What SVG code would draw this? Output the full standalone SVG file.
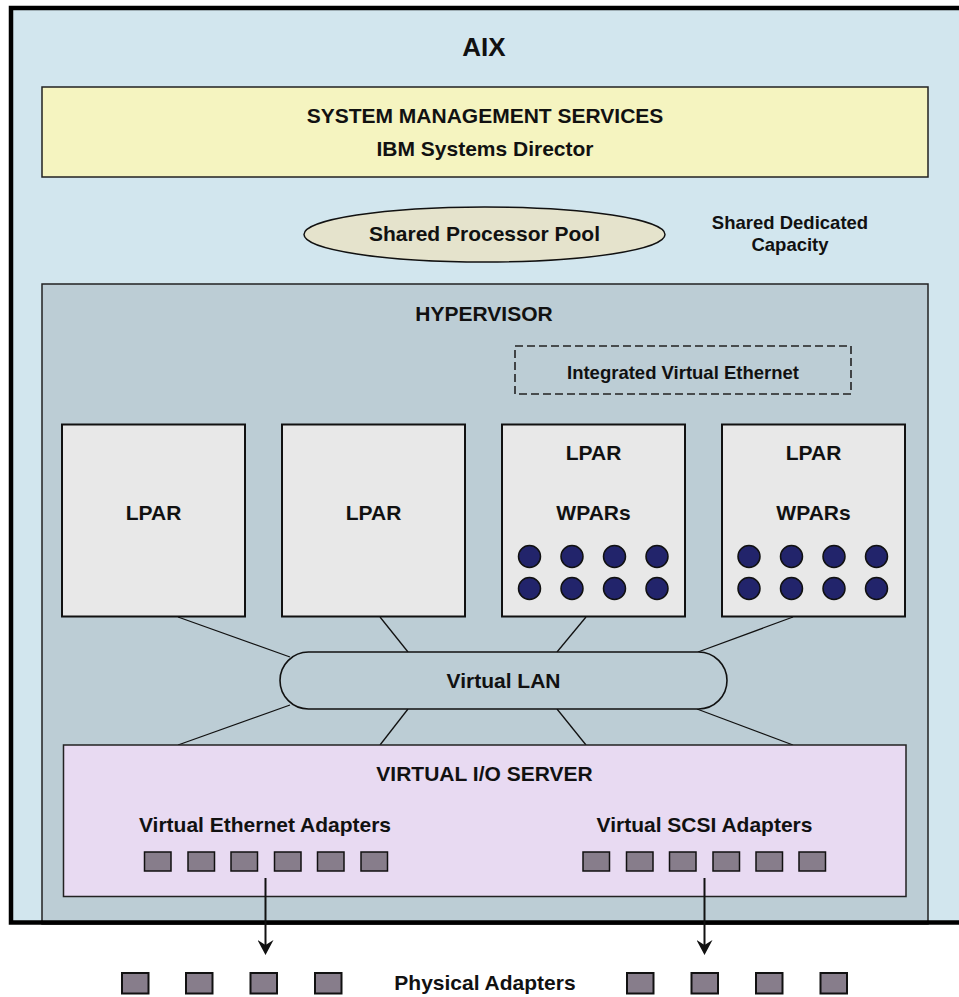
<svg xmlns="http://www.w3.org/2000/svg" width="959" height="997" viewBox="0 0 959 997">
<defs>
<style>
text{font-family:"Liberation Sans",Arial,sans-serif;font-weight:bold;fill:#111;text-anchor:middle}
.t21{font-size:21px}
.t18{font-size:18.5px}
.lpar{fill:#e8e8e8;stroke:#111;stroke-width:2}
.dot{fill:#22246b;stroke:#111;stroke-width:1.5}
.sq{fill:#877d8b;stroke:#111;stroke-width:1.5}
.psq{fill:#877d8b;stroke:#111;stroke-width:2}
.conn{stroke:#111;stroke-width:1.3;fill:none}
.arrow{stroke:#111;stroke-width:2;fill:none}
</style>
<marker id="arr" viewBox="0 0 15 16" refX="5" refY="8" markerWidth="15" markerHeight="16" markerUnits="userSpaceOnUse" orient="auto">
<path d="M0,0 L15,8 L0,16 L5,8 Z" fill="#111"/>
</marker>
</defs>
<rect x="0" y="0" width="959" height="997" fill="#fff"/>

<g id="aix">
<rect x="11" y="8" width="960" height="914.5" fill="#d2e6ee"/>
<text class="t21" x="484" y="56" style="font-size:26px">AIX</text>
</g>

<g id="system-management">
<rect x="42" y="87" width="886" height="90" fill="#f5f4c0" stroke="#222" stroke-width="1.5"/>
<text class="t21" x="485" y="123">SYSTEM MANAGEMENT SERVICES</text>
<text class="t21" x="485" y="156">IBM Systems Director</text>
</g>

<g id="shared-pool">
<ellipse cx="484.5" cy="234.5" rx="180.5" ry="27.5" fill="#e5e3cc" stroke="#111" stroke-width="1.5"/>
<text class="t21" x="484.5" y="241">Shared Processor Pool</text>
</g>

<g id="shared-dedicated">
<text class="t18" x="790" y="229">Shared Dedicated</text>
<text class="t18" x="790" y="251">Capacity</text>
</g>

<g id="hypervisor">
<rect x="42" y="284" width="886" height="640" fill="#bccdd5" stroke="#222" stroke-width="1.5"/>
<text class="t21" x="484" y="321">HYPERVISOR</text>
</g>

<g id="ive">
<rect x="515" y="346" width="336" height="48" fill="none" stroke="#222" stroke-width="1.6" stroke-dasharray="8,4"/>
<text class="t18" x="683" y="379">Integrated Virtual Ethernet</text>
</g>

<g id="connectors">
<line class="conn" x1="178" y1="617" x2="290" y2="657"/>
<line class="conn" x1="380" y1="617" x2="408" y2="652"/>
<line class="conn" x1="586" y1="617" x2="557" y2="652"/>
<line class="conn" x1="793" y1="617" x2="698" y2="652"/>
<line class="conn" x1="290" y1="705" x2="178" y2="745"/>
<line class="conn" x1="408" y1="709" x2="380" y2="745"/>
<line class="conn" x1="557" y1="709" x2="586" y2="745"/>
<line class="conn" x1="697" y1="709" x2="793" y2="745"/>
</g>

<g id="lpar1">
<rect class="lpar" x="62" y="424.5" width="183" height="192"/>
<text class="t21" x="153.5" y="520">LPAR</text>
</g>
<g id="lpar2">
<rect class="lpar" x="282" y="424.5" width="183" height="192"/>
<text class="t21" x="373.5" y="520">LPAR</text>
</g>
<g id="lpar3">
<rect class="lpar" x="502" y="424.5" width="183" height="192"/>
<text class="t21" x="593.5" y="460">LPAR</text>
<text class="t21" x="593.5" y="520">WPARs</text>
<circle class="dot" cx="529.5" cy="556.5" r="11"/>
<circle class="dot" cx="572" cy="556.5" r="11"/>
<circle class="dot" cx="614.5" cy="556.5" r="11"/>
<circle class="dot" cx="657" cy="556.5" r="11"/>
<circle class="dot" cx="529.5" cy="588.5" r="11"/>
<circle class="dot" cx="572" cy="588.5" r="11"/>
<circle class="dot" cx="614.5" cy="588.5" r="11"/>
<circle class="dot" cx="657" cy="588.5" r="11"/>
</g>
<g id="lpar4">
<rect class="lpar" x="722" y="424.5" width="183" height="192"/>
<text class="t21" x="813.5" y="460">LPAR</text>
<text class="t21" x="813.5" y="520">WPARs</text>
<circle class="dot" cx="749" cy="556.5" r="11"/>
<circle class="dot" cx="791.5" cy="556.5" r="11"/>
<circle class="dot" cx="834" cy="556.5" r="11"/>
<circle class="dot" cx="876.5" cy="556.5" r="11"/>
<circle class="dot" cx="749" cy="588.5" r="11"/>
<circle class="dot" cx="791.5" cy="588.5" r="11"/>
<circle class="dot" cx="834" cy="588.5" r="11"/>
<circle class="dot" cx="876.5" cy="588.5" r="11"/>
</g>

<g id="virtual-lan">
<rect x="280" y="652" width="447" height="57" rx="28.5" ry="28.5" fill="#bccdd5" stroke="#111" stroke-width="1.6"/>
<text class="t21" x="503.5" y="688">Virtual LAN</text>
</g>

<g id="vio-server">
<rect x="63.5" y="745" width="842.5" height="151.5" fill="#e8daf2" stroke="#222" stroke-width="1.5"/>
<text class="t21" x="484.5" y="781">VIRTUAL I/O SERVER</text>
<text class="t21" x="265" y="832">Virtual Ethernet Adapters</text>
<text class="t21" x="704.5" y="832">Virtual SCSI Adapters</text>
<rect class="sq" x="144.5" y="852" width="26.5" height="19"/>
<rect class="sq" x="188" y="852" width="26.5" height="19"/>
<rect class="sq" x="231" y="852" width="26.5" height="19"/>
<rect class="sq" x="274.5" y="852" width="26.5" height="19"/>
<rect class="sq" x="317.5" y="852" width="26.5" height="19"/>
<rect class="sq" x="361" y="852" width="26.5" height="19"/>
<rect class="sq" x="583" y="852" width="26.5" height="19"/>
<rect class="sq" x="626.5" y="852" width="26.5" height="19"/>
<rect class="sq" x="669.5" y="852" width="26.5" height="19"/>
<rect class="sq" x="713" y="852" width="26.5" height="19"/>
<rect class="sq" x="756" y="852" width="26.5" height="19"/>
<rect class="sq" x="799" y="852" width="26.5" height="19"/>
</g>

<g id="aix-border">
<rect x="11" y="8" width="960" height="914.5" fill="none" stroke="#000" stroke-width="4.5"/>
</g>

<g id="arrows">
<line class="arrow" x1="265.5" y1="878" x2="265.5" y2="945" marker-end="url(#arr)"/>
<line class="arrow" x1="704.5" y1="878" x2="704.5" y2="945" marker-end="url(#arr)"/>
</g>

<g id="physical-adapters">
<rect class="psq" x="122" y="973" width="26.5" height="20.5"/>
<rect class="psq" x="186" y="973" width="26.5" height="20.5"/>
<rect class="psq" x="250.5" y="973" width="26.5" height="20.5"/>
<rect class="psq" x="315" y="973" width="26.5" height="20.5"/>
<text class="t21" x="485" y="990">Physical Adapters</text>
<rect class="psq" x="627" y="973" width="26.5" height="20.5"/>
<rect class="psq" x="691.5" y="973" width="26.5" height="20.5"/>
<rect class="psq" x="756" y="973" width="26.5" height="20.5"/>
<rect class="psq" x="820.5" y="973" width="26.5" height="20.5"/>
</g>
</svg>
